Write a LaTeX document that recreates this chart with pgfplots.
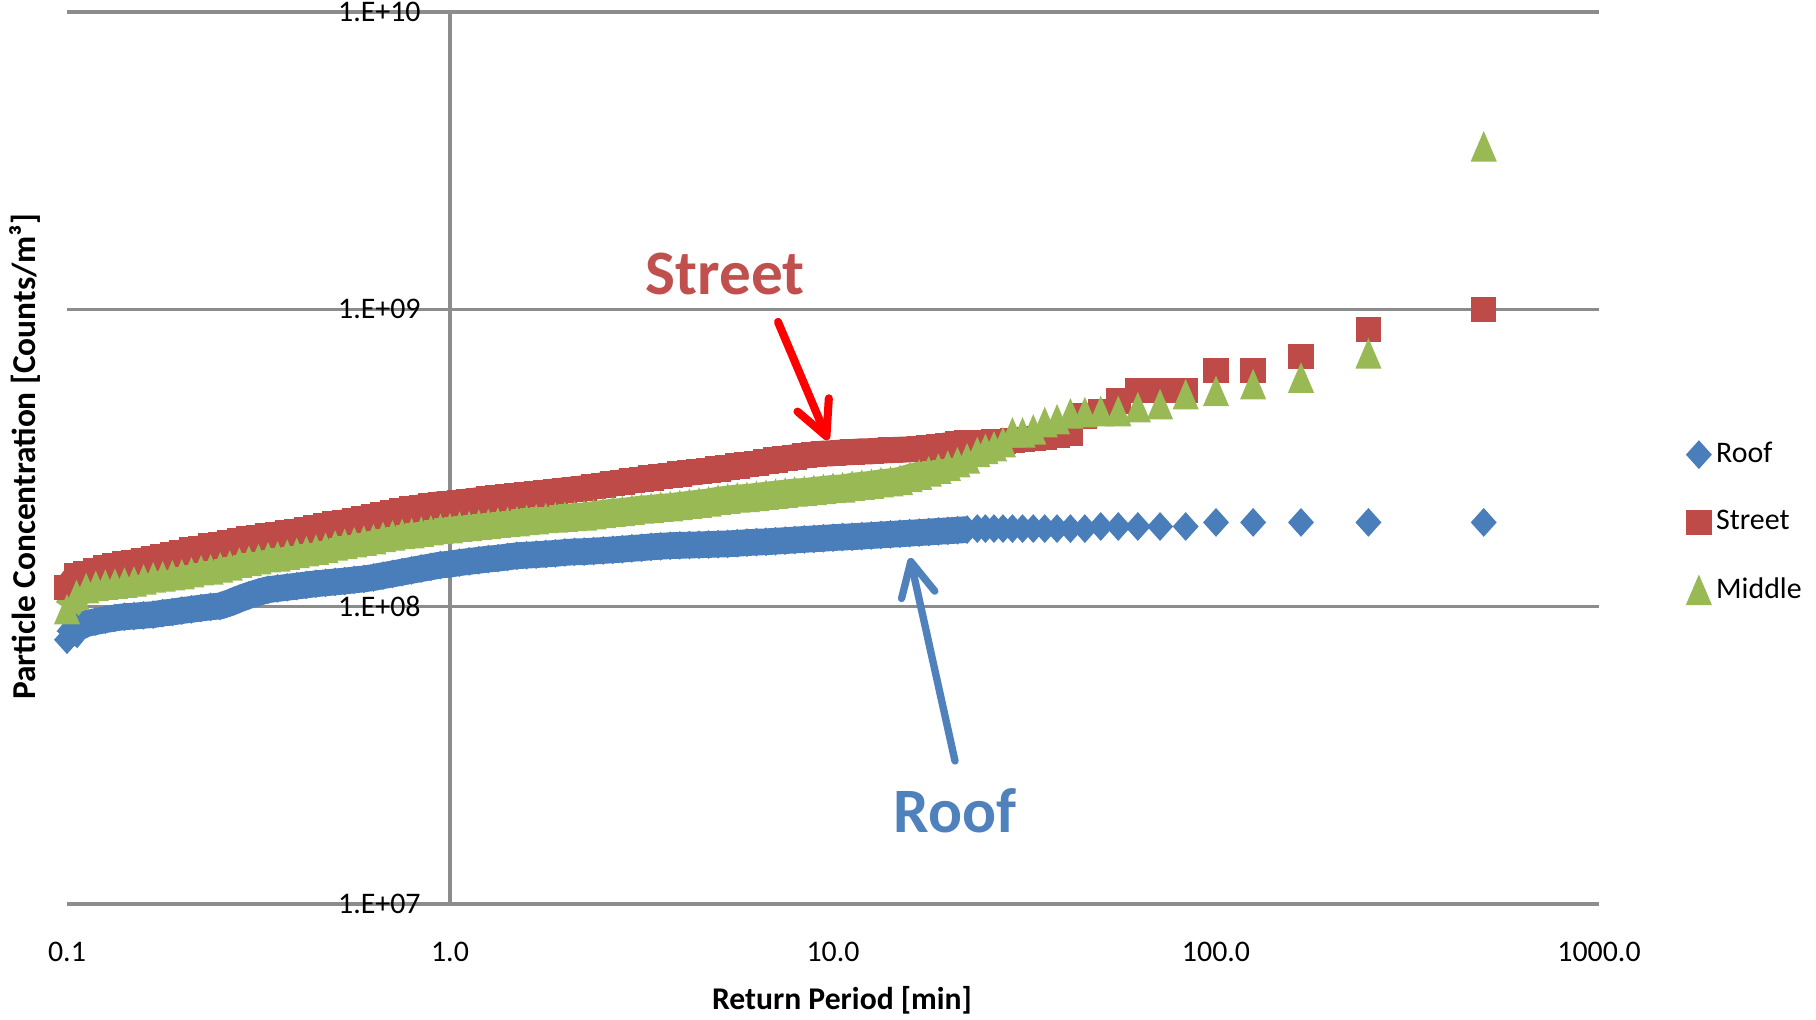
\documentclass[border=0pt]{standalone}
\usepackage{fontspec}
\setmainfont{Carlito}
\usepackage{pgfplots}
\pgfplotsset{compat=1.18}
\usepackage{pgfplotstable}
\usetikzlibrary{arrows.meta}
\definecolor{roofblue}{HTML}{4A7EBB}
\definecolor{streetred}{HTML}{BE4B48}
\definecolor{middlegreen}{HTML}{98B954}
\definecolor{gridgray}{HTML}{8C8C8C}
\definecolor{streettext}{HTML}{C0504D}
\definecolor{rooftext}{HTML}{4F81BD}

\pgfplotstableread{
x y
0.1000 7.74e7
0.1059 8.47e7
0.1122 8.77e7
0.1189 8.91e7
0.1259 9.04e7
0.1334 9.16e7
0.1413 9.25e7
0.1496 9.29e7
0.1585 9.35e7
0.1679 9.40e7
0.1778 9.51e7
0.1884 9.59e7
0.1995 9.70e7
0.2113 9.79e7
0.2239 9.89e7
0.2371 9.98e7
0.2512 1.005e8
0.2661 1.030e8
0.2818 1.062e8
0.2985 1.091e8
0.3162 1.117e8
0.3350 1.140e8
0.3548 1.151e8
0.3758 1.161e8
0.3981 1.172e8
0.4217 1.183e8
0.4467 1.194e8
0.4732 1.202e8
0.5012 1.211e8
0.5309 1.219e8
0.5623 1.230e8
0.5957 1.239e8
0.6310 1.253e8
0.6683 1.271e8
0.7079 1.288e8
0.7499 1.306e8
0.7943 1.324e8
0.8414 1.343e8
0.8913 1.361e8
0.9441 1.380e8
1.000 1.390e8
1.059 1.406e8
1.122 1.419e8
1.189 1.432e8
1.259 1.445e8
1.334 1.455e8
1.413 1.469e8
1.496 1.483e8
1.585 1.489e8
1.679 1.496e8
1.778 1.503e8
1.884 1.510e8
1.995 1.521e8
2.113 1.528e8
2.239 1.531e8
2.371 1.538e8
2.512 1.545e8
2.661 1.552e8
2.818 1.560e8
2.985 1.570e8
3.162 1.578e8
3.350 1.589e8
3.548 1.596e8
3.758 1.603e8
3.981 1.607e8
4.217 1.611e8
4.467 1.614e8
4.732 1.618e8
5.012 1.622e8
5.309 1.626e8
5.623 1.633e8
5.957 1.641e8
6.310 1.648e8
6.683 1.652e8
7.079 1.660e8
7.499 1.667e8
7.943 1.675e8
8.414 1.683e8
8.913 1.690e8
9.441 1.698e8
10.00 1.706e8
10.59 1.714e8
11.22 1.718e8
11.89 1.726e8
12.59 1.734e8
13.34 1.742e8
14.13 1.750e8
14.96 1.758e8
15.85 1.766e8
16.79 1.774e8
17.78 1.782e8
18.84 1.791e8
19.95 1.799e8
21.13 1.807e8
22.39 1.816e8
23.81 1.83e8
25.00 1.83e8
26.32 1.83e8
27.78 1.83e8
29.41 1.83e8
31.25 1.83e8
33.33 1.83e8
35.71 1.83e8
38.46 1.83e8
41.67 1.83e8
45.45 1.83e8
50.00 1.86e8
55.56 1.86e8
62.50 1.86e8
71.43 1.86e8
83.33 1.86e8
100.0 1.92e8
125.0 1.92e8
166.7 1.92e8
250.0 1.92e8
500.0 1.92e8
}\roofdata

\pgfplotstableread{
x y
0.1000 1.16e8
0.1059 1.27e8
0.1122 1.29e8
0.1189 1.32e8
0.1259 1.35e8
0.1334 1.37e8
0.1413 1.39e8
0.1496 1.41e8
0.1585 1.43e8
0.1679 1.45e8
0.1778 1.47e8
0.1884 1.50e8
0.1995 1.52e8
0.2113 1.55e8
0.2239 1.57e8
0.2371 1.60e8
0.2512 1.62e8
0.2661 1.64e8
0.2818 1.67e8
0.2985 1.69e8
0.3162 1.71e8
0.3350 1.73e8
0.3548 1.75e8
0.3758 1.77e8
0.3981 1.79e8
0.4217 1.81e8
0.4467 1.84e8
0.4732 1.87e8
0.5012 1.90e8
0.5309 1.92e8
0.5623 1.95e8
0.5957 1.98e8
0.6310 2.01e8
0.6683 2.04e8
0.7079 2.07e8
0.7499 2.10e8
0.7943 2.13e8
0.8414 2.16e8
0.8913 2.19e8
0.9441 2.21e8
1.000 2.22e8
1.059 2.24e8
1.122 2.26e8
1.189 2.28e8
1.259 2.30e8
1.334 2.32e8
1.413 2.34e8
1.496 2.36e8
1.585 2.38e8
1.679 2.39e8
1.778 2.42e8
1.884 2.44e8
1.995 2.46e8
2.113 2.48e8
2.239 2.50e8
2.371 2.53e8
2.512 2.56e8
2.661 2.59e8
2.818 2.62e8
2.985 2.65e8
3.162 2.68e8
3.350 2.71e8
3.548 2.74e8
3.758 2.76e8
3.981 2.79e8
4.217 2.82e8
4.467 2.84e8
4.732 2.87e8
5.012 2.90e8
5.309 2.93e8
5.623 2.97e8
5.957 3.00e8
6.310 3.03e8
6.683 3.07e8
7.079 3.11e8
7.499 3.15e8
7.943 3.18e8
8.414 3.22e8
8.913 3.25e8
9.441 3.27e8
10.00 3.28e8
10.59 3.30e8
11.22 3.31e8
11.89 3.33e8
12.59 3.33e8
13.34 3.35e8
14.13 3.36e8
14.96 3.37e8
15.85 3.38e8
16.79 3.40e8
17.78 3.42e8
18.84 3.45e8
19.95 3.49e8
21.13 3.52e8
22.39 3.55e8
23.81 3.56e8
25.00 3.57e8
26.32 3.58e8
27.78 3.60e8
29.41 3.62e8
31.25 3.65e8
33.33 3.68e8
35.71 3.72e8
38.46 3.76e8
41.67 3.83e8
45.45 4.38e8
50.00 4.53e8
55.56 4.92e8
62.50 5.33e8
71.43 5.33e8
83.33 5.33e8
100.0 6.22e8
125.0 6.22e8
166.7 6.93e8
250.0 8.53e8
500.0 9.96e8
}\streetdata

\pgfplotstableread{
x y
0.1000 9.77e7
0.1059 1.09e8
0.1122 1.15e8
0.1189 1.17e8
0.1259 1.18e8
0.1334 1.19e8
0.1413 1.20e8
0.1496 1.21e8
0.1585 1.23e8
0.1679 1.25e8
0.1778 1.26e8
0.1884 1.27e8
0.1995 1.28e8
0.2113 1.30e8
0.2239 1.32e8
0.2371 1.33e8
0.2512 1.35e8
0.2661 1.37e8
0.2818 1.40e8
0.2985 1.42e8
0.3162 1.44e8
0.3350 1.46e8
0.3548 1.47e8
0.3758 1.49e8
0.3981 1.51e8
0.4217 1.53e8
0.4467 1.55e8
0.4732 1.57e8
0.5012 1.60e8
0.5309 1.62e8
0.5623 1.64e8
0.5957 1.66e8
0.6310 1.68e8
0.6683 1.71e8
0.7079 1.73e8
0.7499 1.75e8
0.7943 1.76e8
0.8414 1.78e8
0.8913 1.80e8
0.9441 1.82e8
1.000 1.83e8
1.059 1.85e8
1.122 1.86e8
1.189 1.88e8
1.259 1.89e8
1.334 1.91e8
1.413 1.92e8
1.496 1.93e8
1.585 1.95e8
1.679 1.96e8
1.778 1.98e8
1.884 1.99e8
1.995 2.00e8
2.113 2.01e8
2.239 2.02e8
2.371 2.04e8
2.512 2.06e8
2.661 2.08e8
2.818 2.09e8
2.985 2.11e8
3.162 2.13e8
3.350 2.14e8
3.548 2.16e8
3.758 2.17e8
3.981 2.19e8
4.217 2.21e8
4.467 2.23e8
4.732 2.25e8
5.012 2.28e8
5.309 2.30e8
5.623 2.32e8
5.957 2.33e8
6.310 2.35e8
6.683 2.37e8
7.079 2.39e8
7.499 2.41e8
7.943 2.43e8
8.414 2.44e8
8.913 2.46e8
9.441 2.48e8
10.00 2.50e8
10.59 2.51e8
11.22 2.54e8
11.89 2.56e8
12.59 2.58e8
13.34 2.61e8
14.13 2.63e8
14.96 2.66e8
15.85 2.72e8
16.79 2.77e8
17.78 2.84e8
18.84 2.90e8
19.95 2.97e8
21.13 3.05e8
22.39 3.14e8
23.81 3.30e8
25.00 3.38e8
26.32 3.45e8
27.78 3.56e8
29.41 3.84e8
31.25 3.84e8
33.33 3.93e8
35.71 4.16e8
38.46 4.25e8
41.67 4.45e8
45.45 4.49e8
50.00 4.53e8
55.56 4.53e8
62.50 4.67e8
71.43 4.78e8
83.33 5.16e8
100.0 5.29e8
125.0 5.58e8
166.7 5.87e8
250.0 7.08e8
500.0 3.52e9
}\middledata

\begin{document}
\begin{tikzpicture}
\path[use as bounding box] (0,0) rectangle (18.16cm,10.2cm);
\begin{axis}[
  at={(0.67cm,1.16cm)}, anchor=south west,
  width=15.32cm, height=8.92cm, scale only axis,
  xmode=log, ymode=log,
  xmin=0.1, xmax=1000, ymin=1e7, ymax=1e10,
  clip=false,
  axis line style={draw=none},
  tick style={draw=none},
  major tick length=0pt, minor tick length=0pt,
  xtick={0.1,1,10,100,1000},
  xticklabels={0.1,1.0,10.0,100.0,1000.0},
  ytick={1e7,1e8,1e9,1e10},
  yticklabels={1.E+07,1.E+08,1.E+09,1.E+10},
  tick label style={font=\fontsize{8.5}{10}\selectfont},
  xticklabel style={yshift=-2.6mm},
  yticklabel style={xshift=3.66cm},
  ymajorgrids=true,
  major grid style={gridgray, line width=0.9pt},
  extra x ticks={1},
  extra x tick labels={},
  extra x tick style={grid=major},
  legend style={at={(1.05,0.4276)}, anchor=west, draw=none, fill=none,
    font=\fontsize{8.5}{10}\selectfont, row sep=3.2mm, nodes={inner sep=1.5pt}},
  legend cell align=left,
  legend image code/.code={\draw[#1] plot coordinates {(0cm,0cm)};},
]
% Roof
\addplot[forget plot, no markers, line width=7.6pt, line join=round, color=roofblue,
  skip coords between index={95}{200}] table[x=x,y=y]{\roofdata};
\addplot[only marks, color=roofblue, mark=diamond*, mark size=3.8pt,
  mark options={xscale=1.2, fill=roofblue, draw=none}] table[x=x,y=y]{\roofdata};
\addlegendentry{Roof}
% Street
\addplot[forget plot, no markers, line width=7.4pt, line join=round, color=streetred,
  skip coords between index={95}{200}] table[x=x,y=y]{\streetdata};
\addplot[only marks, color=streetred, mark=square*, mark size=3.4pt,
  mark options={fill=streetred, draw=none}] table[x=x,y=y]{\streetdata};
\addlegendentry{Street}
% Middle
\addplot[forget plot, no markers, line width=7.6pt, line join=round, color=middlegreen,
  skip coords between index={95}{200}] table[x=x,y=y]{\middledata};
\addplot[only marks, color=middlegreen, mark=triangle*, mark size=3.94pt,
  mark options={yshift=-1.33pt, yscale=1.35, fill=middlegreen, draw=none}] table[x=x,y=y]{\middledata};
\addlegendentry{Middle}
\end{axis}
\node[font=\bfseries\fontsize{9.5}{11}\selectfont, rotate=90] at (0.25cm,5.63cm) {Particle Concentration [Counts/m³]};
\node[font=\bfseries\fontsize{9}{11}\selectfont] at (8.42cm,0.20cm) {Return Period [min]};
\node[font=\bfseries\fontsize{18}{21}\selectfont, text=streettext] at (7.25cm,7.46cm) {Street};
\node[font=\bfseries\fontsize{18}{21}\selectfont, text=rooftext] at (9.55cm,2.09cm) {Roof};
\draw[line width=2.3pt, color=red, line cap=round,
  -{Straight Barb[length=3.4mm, width=3.4mm, round]}] (7.78cm,6.98cm) -- (8.28cm,5.80cm);
\draw[line width=2.1pt, color=rooftext, line cap=round,
  -{Straight Barb[length=3.4mm, width=3.4mm, round]}] (9.55cm,2.59cm) -- (9.10cm,4.62cm);
\end{tikzpicture}
\end{document}
